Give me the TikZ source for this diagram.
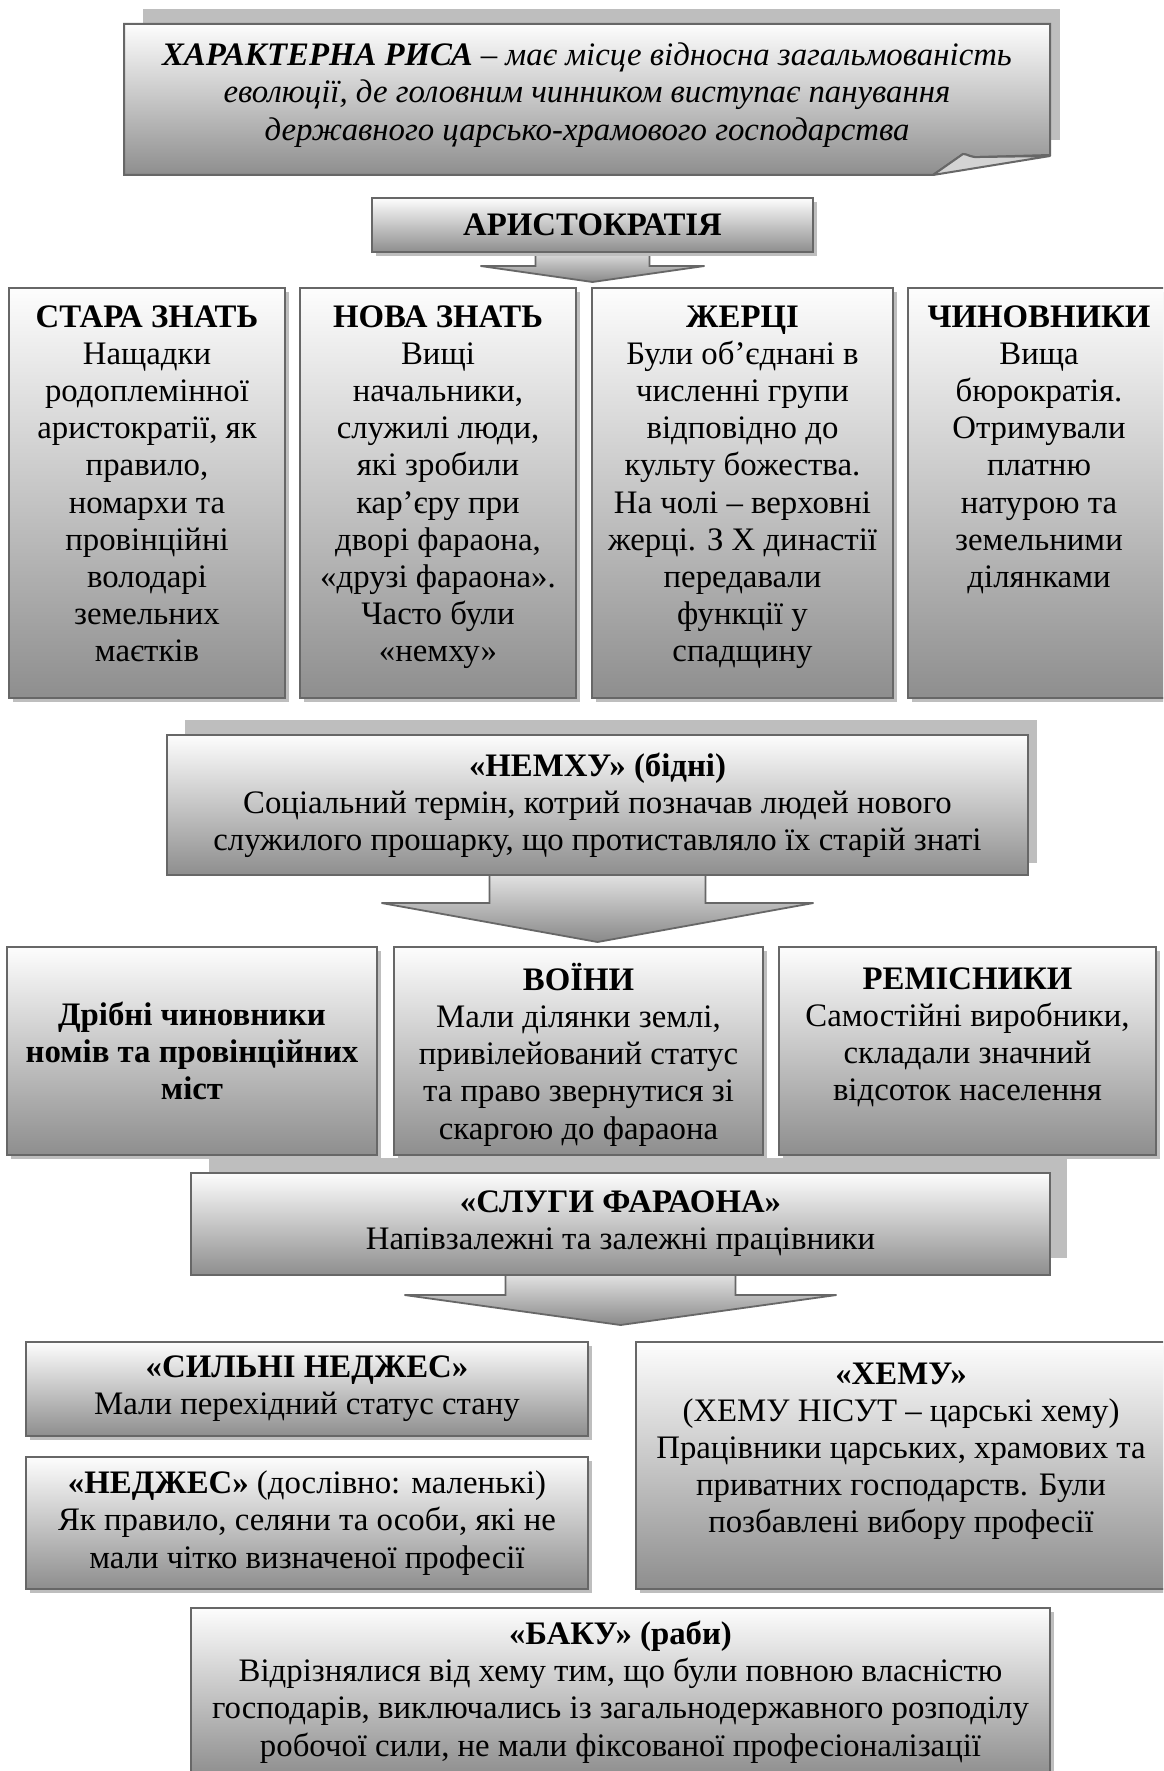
\documentclass[tikz,border=0pt]{standalone}
\usepackage{fontspec}
\setmainfont{Liberation Serif}
\usetikzlibrary{positioning, calc, backgrounds, shadows}
\definecolor{edgegray}{HTML}{676767}
\definecolor{toplight}{HTML}{FDFDFD}
\definecolor{botdark}{HTML}{8E8E8E}
\definecolor{shadegray}{HTML}{BEBEBE}
\definecolor{foldgray}{HTML}{D3D3D3}
\definecolor{arrtop}{HTML}{E4E4E4}
\definecolor{arrbot}{HTML}{898989}

% top-aligned text block of fixed size
\newcommand{\toptext}[4]{\parbox[c][#2][t]{#1}{\centering\vspace*{#3}\strut#4}}

\begin{document}
\begin{tikzpicture}[
  x=0.5pt, y=-0.5pt,
  node distance=7.5pt,
  every node/.style={font=\fontsize{16.4pt}{18.6pt}\selectfont, inner sep=0pt, outer sep=0pt},
  block/.style={
    draw=edgegray, line width=1pt, top color=toplight, bottom color=botdark,
    drop shadow={shadow xshift=1.8pt, shadow yshift=-1.8pt, fill=shadegray, opacity=1},
  },
  bigblock/.style={draw=edgegray, line width=1pt, top color=toplight, bottom color=botdark},
  backshadow/.style={fill=shadegray},
  arrbody/.style={draw=edgegray, line width=0.9pt, top color=arrtop, bottom color=arrbot, line join=miter},
]

\useasboundingbox (0,0) rectangle (1163,1771);
\clip (0,0) rectangle (1163,1771);

% === CHARACTERISTIC FEATURE (top) ===
\coordinate (traitnw) at (124,24);
\coordinate (traitse) at (1050,175);
\node[align=center] (trait) at (587,95)
  {\textbf{\textit{ХАРАКТЕРНА РИСА}} \textit{– має місце відносна загальмованість}\\
   \textit{еволюції, де головним чинником виступає панування}\\
   \textit{державного царсько-храмового господарства}};

% === ARISTOCRACY ===
\node[block, minimum width=220.5pt, minimum height=27pt, anchor=north west] (aristo) at (372,198)
  {\textbf{АРИСТОКРАТІЯ}};

\node[block, anchor=north west] (stara) at (9,288)
  {\toptext{138pt}{205pt}{6.5pt}{\textbf{СТАРА ЗНАТЬ}\\Нащадки\\родоплемінної\\аристократії, як\\правило,\\номархи та\\провінційні\\володарі\\земельних\\маєтків}};
\node[block, right=7.5pt of stara] (nova)
  {\toptext{138pt}{205pt}{6.5pt}{\textbf{НОВА ЗНАТЬ}\\Вищі\\начальники,\\служилі люди,\\які зробили\\кар’єру при\\дворі фараона,\\«друзі фараона».\\Часто були\\«немху»}};
\node[block, right=8pt of nova] (zhertsi)
  {\toptext{150.5pt}{205pt}{6.5pt}{\textbf{ЖЕРЦІ}\\Були об’єднані в\\численні групи\\відповідно до\\культу божества.\\На чолі – верховні\\жерці. З X династії\\передавали\\функції у\\спадщину}};
\node[block, right=7.5pt of zhertsi] (chyn)
  {\toptext{131pt}{205pt}{6.5pt}{\textbf{ЧИНОВНИКИ}\\Вища\\бюрократія.\\Отримували\\платню\\натурою та\\земельними\\ділянками}};

% === NEMKHU ===
\node[bigblock, align=center, minimum width=430.5pt, minimum height=70pt, anchor=north west] (nemkhu) at (167,735)
  {\textbf{«НЕМХУ» (бідні)}\\Соціальний термін, котрий позначав людей нового\\служилого прошарку, що протиставляло їх старій знаті};

\node[block, align=center, minimum width=185pt, minimum height=104pt, anchor=north west] (dribni) at (7,947)
  {\textbf{Дрібні чиновники}\\\textbf{номів та провінційних}\\\textbf{міст}};
\node[block, right=8.5pt of dribni] (voiny)
  {\toptext{184.5pt}{104pt}{8pt}{\textbf{ВОЇНИ}\\Мали ділянки землі,\\привілейований статус\\та право звернутися зі\\скаргою до фараона}};
\node[block, right=8pt of voiny] (remisn)
  {\toptext{188.5pt}{104pt}{8pt}{\textbf{РЕМІСНИКИ}\\Самостійні виробники,\\складали значний\\відсоток населення}};

% === PHARAOH'S SERVANTS ===
\node[bigblock, align=center, minimum width=429.5pt, minimum height=51pt, anchor=north west] (slugy) at (191,1173)
  {\textbf{«СЛУГИ ФАРАОНА»}\\Напівзалежні та залежні працівники};

\node[block, align=center, minimum width=281pt, minimum height=47pt, anchor=north west] (sylni) at (26,1342)
  {\textbf{«СИЛЬНІ НЕДЖЕС»}\\Мали перехідний статус стану};
\node[block, align=center, minimum width=281pt, minimum height=66pt, below=10.5pt of sylni] (nedzhes)
  {\textbf{«НЕДЖЕС»} (дослівно: маленькі)\\Як правило, селяни та особи, які не\\мали чітко визначеної професії};
\node[block, right=24pt of sylni.north east, anchor=north west] (khemu)
  {\toptext{265pt}{123.5pt}{8pt}{\textbf{«ХЕМУ»}\\(ХЕМУ НІСУТ – царські хему)\\Працівники царських, храмових та\\приватних господарств. Були\\позбавлені вибору професії}};

% === SLAVES ===
\node[block, align=center, minimum width=429.5pt, minimum height=84pt, anchor=north west] (baku) at (191,1608)
  {\textbf{«БАКУ» (раби)}\\Відрізнялися від хему тим, що були повною власністю\\господарів, виключались із загальнодержавного розподілу\\робочої сили, не мали фіксованої професіоналізації};

% Back shadows, folded card and block arrows
\begin{scope}[on background layer]
  \fill[backshadow] ($(traitnw)+(19,-15)$) rectangle ($(traitse)+(10,-35)$);
  \path[bigblock] (traitnw) -- (traitnw -| traitse) -- ($(traitse)+(0,-20)$)
    -- ($(traitse)+(-70,-18)$) .. controls ($(traitse)+(-80,-17)$) and ($(traitse)+(-82,-21)$) .. ($(traitse)+(-87,-21)$)
    -- ($(traitse)+(-117,0)$) -- (traitnw |- traitse) -- cycle;
  \path[draw=edgegray, line width=1pt, fill=foldgray, line join=round]
    ($(traitse)+(-117,0)$) -- ($(traitse)+(0,-19)$)
    -- ($(traitse)+(-70,-18)$) .. controls ($(traitse)+(-80,-17)$) and ($(traitse)+(-82,-21)$) .. ($(traitse)+(-87,-21)$) -- cycle;

  \foreach \blk/\dr/\db in {nemkhu/9/12, slugy/17/17} {
    \fill[backshadow] ($(\blk.north west)+(18,-15)$) rectangle ($(\blk.south east)+(\dr,-\db)$);
  }

  \foreach \blk/\sw/\hw/\sl/\hl/\sh in {aristo/57/112/14/16/4, nemkhu/108/216/28/39/13, slugy/115/216/20/30/13} {
    \path[backshadow, shift={(\sh,-\sh)}] ($(\blk.south)+(-\sw,-2)$) -- ++(0,{\sl+2}) -- ++({\sw-\hw},0)
      -- ++(\hw,\hl) -- ++(\hw,-\hl) -- ++({\sw-\hw},0) -- ++(0,{-\sl-2}) -- cycle;
    \path[arrbody] ($(\blk.south)+(-\sw,-2)$) -- ++(0,{\sl+2}) -- ++({\sw-\hw},0)
      -- ++(\hw,\hl) -- ++(\hw,-\hl) -- ++({\sw-\hw},0) -- ++(0,{-\sl-2}) -- cycle;
  }
\end{scope}

\end{tikzpicture}
\end{document}
